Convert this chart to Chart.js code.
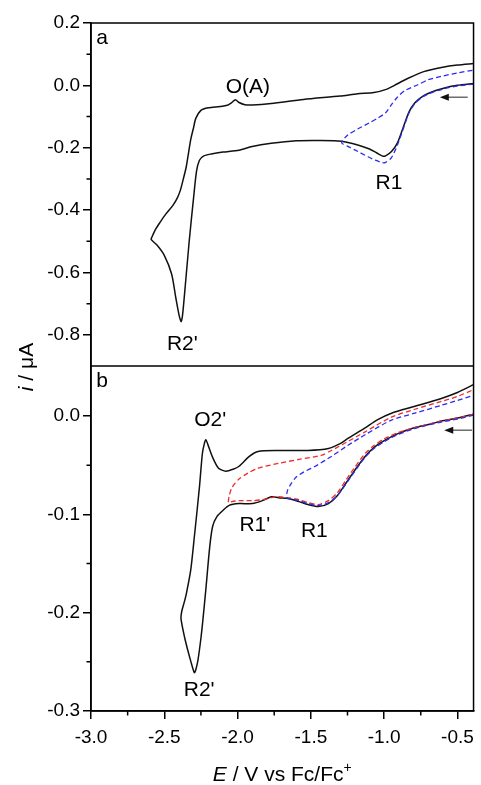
<!doctype html>
<html>

<head>
  <meta charset="UTF-8">
  <script src="https://cdn.jsdelivr.net/npm/chart.js"></script>
  <style>
    html, body { margin: 0; padding: 0; background: #fff; }
    #wrap { width: 481px; height: 785px; }
  </style>
</head>

<body>
  <div id="wrap"><canvas id="cvChart" width="481" height="785"></canvas></div>

<script>
  // ---- panel a: full scan (black) and scan reversed after R1 (blue) ----
  const aBlackE = [-0.39, -0.50, -0.60, -0.68, -0.74, -0.79, -0.83, -0.87, -0.91, -0.95, -0.99, -1.01, -1.05, -1.10, -1.18,
    -1.29, -1.45, -1.60, -1.77, -1.90, -1.99, -2.10, -2.18, -2.23, -2.26, -2.28, -2.30, -2.33, -2.36, -2.375, -2.385,
    -2.40, -2.42, -2.45, -2.50, -2.55, -2.585, -2.59,
    -2.585, -2.56, -2.53, -2.49, -2.44, -2.41, -2.39, -2.37, -2.35, -2.32, -2.30, -2.285, -2.25, -2.20, -2.12, -2.07,
    -2.04, -2.015, -1.99, -1.95, -1.90, -1.77, -1.55, -1.30, -1.18, -1.07, -0.98, -0.93, -0.84, -0.73, -0.60, -0.50, -0.39];
  const aBlackI = [0.006, 0.000, -0.010, -0.022, -0.036, -0.056, -0.085, -0.135, -0.185, -0.212, -0.226, -0.227, -0.217, -0.204, -0.191,
    -0.179, -0.177, -0.178, -0.186, -0.196, -0.208, -0.214, -0.220, -0.226, -0.240, -0.275, -0.360, -0.500, -0.660, -0.735, -0.758,
    -0.735, -0.685, -0.605, -0.545, -0.512, -0.497, -0.493,
    -0.487, -0.462, -0.440, -0.413, -0.384, -0.360, -0.336, -0.300, -0.261, -0.175, -0.135, -0.106, -0.080, -0.072, -0.068, -0.064,
    -0.055, -0.046, -0.055, -0.062, -0.063, -0.058, -0.045, -0.034, -0.027, -0.023, -0.012, 0.000, 0.022, 0.044, 0.058, 0.065, 0.070];

  const aBlueE = [-0.39, -0.50, -0.60, -0.68, -0.74, -0.79, -0.83, -0.87, -0.91, -0.95, -0.99, -1.01, -1.06, -1.11, -1.20, -1.25, -1.29,
    -1.25, -1.18, -1.10, -1.04, -0.99, -0.95, -0.91, -0.86, -0.77, -0.70, -0.61, -0.50, -0.39];
  const aBlueI = [0.004, -0.002, -0.012, -0.024, -0.038, -0.058, -0.088, -0.140, -0.192, -0.232, -0.247, -0.248, -0.240, -0.229, -0.207, -0.195, -0.184,
    -0.160, -0.140, -0.120, -0.104, -0.088, -0.062, -0.038, -0.017, 0.002, 0.018, 0.029, 0.040, 0.049];

  // ---- panel b: full scan (black), reversed after R1' (red), reversed after R1 (blue) ----
  const bBlackE = [-0.39, -0.50, -0.61, -0.68, -0.80, -0.91, -1.00, -1.07, -1.13, -1.20, -1.26, -1.32, -1.38, -1.45, -1.52, -1.58,
    -1.65, -1.72, -1.77, -1.83, -1.90, -1.99, -2.06, -2.10, -2.14, -2.17, -2.19, -2.215, -2.235, -2.25, -2.27, -2.285, -2.295,
    -2.32, -2.34, -2.36, -2.386,
    -2.38, -2.365, -2.35, -2.32, -2.295, -2.26, -2.24, -2.225, -2.216, -2.20, -2.17, -2.13, -2.08, -2.03, -1.99, -1.92, -1.86,
    -1.72, -1.52, -1.38, -1.30, -1.25, -1.13, -1.05, -0.95, -0.79, -0.61, -0.50, -0.39];
  const bBlackI = [0.002, -0.002, -0.005, -0.008, -0.012, -0.018, -0.025, -0.032, -0.041, -0.055, -0.068, -0.081, -0.089, -0.092, -0.090, -0.087,
    -0.084, -0.083, -0.082, -0.086, -0.089, -0.089, -0.091, -0.096, -0.102, -0.112, -0.133, -0.174, -0.205, -0.226, -0.248, -0.258, -0.261,
    -0.249, -0.238, -0.226, -0.206,
    -0.198, -0.190, -0.181, -0.157, -0.123, -0.072, -0.038, -0.027, -0.024, -0.030, -0.042, -0.053, -0.056, -0.054, -0.051, -0.041, -0.036,
    -0.035, -0.035, -0.033, -0.028, -0.023, -0.012, -0.004, 0.003, 0.010, 0.018, 0.024, 0.032];

  const bRedE = [-0.39, -0.50, -0.61, -0.80, -0.91, -1.00, -1.07, -1.13, -1.20, -1.26, -1.32, -1.38, -1.45, -1.52, -1.58, -1.66,
    -1.72, -1.77, -1.83, -1.90, -1.99, -2.04, -2.063,
    -2.055, -2.036, -1.99, -1.93, -1.86, -1.72, -1.58, -1.43, -1.36, -1.25, -1.13, -0.95, -0.79, -0.61, -0.50, -0.39];
  const bRedI = [0.002, -0.002, -0.005, -0.012, -0.017, -0.023, -0.030, -0.038, -0.052, -0.065, -0.078, -0.086, -0.090, -0.088, -0.085, -0.083,
    -0.082, -0.083, -0.085, -0.086, -0.086, -0.087, -0.088,
    -0.080, -0.072, -0.064, -0.058, -0.053, -0.048, -0.044, -0.040, -0.035, -0.026, -0.016, -0.001, 0.007, 0.015, 0.020, 0.027];

  const bBlueE = [-0.39, -0.50, -0.61, -0.80, -0.91, -1.00, -1.07, -1.13, -1.20, -1.26, -1.32, -1.38, -1.45, -1.52, -1.58, -1.663,
    -1.66, -1.64, -1.60, -1.55, -1.47, -1.36, -1.25, -1.13, -0.95, -0.79, -0.61, -0.50, -0.39];
  const bBlueI = [0.001, -0.003, -0.006, -0.013, -0.019, -0.026, -0.033, -0.042, -0.056, -0.069, -0.081, -0.088, -0.091, -0.089, -0.086, -0.083,
    -0.076, -0.070, -0.062, -0.057, -0.051, -0.041, -0.030, -0.019, -0.004, 0.003, 0.011, 0.016, 0.021];

  // axis ranges and tick values
  const eRange = [-3.0, -0.39];
  const aRange = [-0.9, 0.2];
  const bRange = [-0.3, 0.051];
  const eTicks = [-3.0, -2.5, -2.0, -1.5, -1.0, -0.5];
  const eMinor = [-2.75, -2.25, -1.75, -1.25, -0.75];
  const aTicks = [0.2, 0.0, -0.2, -0.4, -0.6, -0.8];
  const aMinor = [0.1, -0.1, -0.3, -0.5, -0.7];
  const bTicks = [0.0, -0.1, -0.2, -0.3];
  const bMinor = [-0.05, -0.15, -0.25];

  // peak labels, panel letters and scan-direction arrows (data units)
  const peakLabels = [
    { axis: 'ya', text: 'a', e: -2.925, i: 0.152 },
    { axis: 'ya', text: 'O(A)', e: -1.93, i: -0.006 },
    { axis: 'ya', text: 'R1', e: -0.967, i: -0.313 },
    { axis: 'ya', text: "R2'", e: -2.377, i: -0.829 },
    { axis: 'yb', text: 'b', e: -2.925, i: 0.036 },
    { axis: 'yb', text: "O2'", e: -2.187, i: -0.004 },
    { axis: 'yb', text: "R1'", e: -1.882, i: -0.111 },
    { axis: 'yb', text: 'R1', e: -1.476, i: -0.117 },
    { axis: 'yb', text: "R2'", e: -2.262, i: -0.279 }
  ];
  const scanArrows = [
    { axis: 'ya', from: -0.43, to: -0.62, i: -0.038 },
    { axis: 'yb', from: -0.40, to: -0.59, i: -0.0143 }
  ];

  const FONT = '"Liberation Sans", Arial, sans-serif';
  const pts = (E, I) => E.map((e, k) => ({ x: e, y: I[k] }));

  function curve(E, I, axis, color, dashed, order) {
    return {
      data: pts(E, I),
      yAxisID: axis,
      borderColor: color,
      borderWidth: dashed ? 1.3 : 1.5,
      borderDash: dashed ? [5, 3] : [],
      pointRadius: 0,
      tension: 0.25,
      fill: false,
      order: order
    };
  }

  function yScale(range, ticks, weight) {
    return {
      type: 'linear',
      position: 'left',
      stack: 'cv',
      stackWeight: weight,
      min: range[0],
      max: range[1],
      afterBuildTicks: s => { s.ticks = ticks.map(v => ({ value: v })); },
      afterFit: s => { s.width = 91; },
      ticks: {
        color: '#000',
        font: { family: FONT, size: 19 },
        padding: 3,
        callback: v => v.toFixed(1)
      },
      grid: { drawOnChartArea: false, drawTicks: true, tickLength: 8, color: '#000', lineWidth: 1.5 },
      border: { color: '#000', width: 1.5 }
    };
  }

  // frame, panel divider, minor ticks, labels, arrows and axis titles
  const decorations = {
    id: 'decorations',
    afterDraw(chart) {
      const { ctx, chartArea: ca, scales } = chart;
      const x = scales.x;
      ctx.save();
      ctx.strokeStyle = '#000';
      ctx.lineWidth = 1.5;
      ctx.strokeRect(ca.left, ca.top, ca.right - ca.left, ca.bottom - ca.top);
      ctx.beginPath();
      ctx.moveTo(ca.left, scales.ya.bottom);
      ctx.lineTo(ca.right, scales.ya.bottom);
      ctx.stroke();

      ctx.beginPath();
      eMinor.forEach(v => {
        const px = x.getPixelForValue(v);
        ctx.moveTo(px, ca.bottom);
        ctx.lineTo(px, ca.bottom + 4.5);
      });
      [[scales.ya, aMinor], [scales.yb, bMinor]].forEach(([s, vals]) => {
        vals.forEach(v => {
          const py = s.getPixelForValue(v);
          ctx.moveTo(ca.left - 4.5, py);
          ctx.lineTo(ca.left, py);
        });
      });
      ctx.stroke();

      ctx.fillStyle = '#000';
      ctx.font = '21px ' + FONT;
      ctx.textAlign = 'center';
      ctx.textBaseline = 'middle';
      peakLabels.forEach(l => {
        ctx.fillText(l.text, x.getPixelForValue(l.e), scales[l.axis].getPixelForValue(l.i));
      });

      scanArrows.forEach(a => {
        const x0 = x.getPixelForValue(a.from);
        const x1 = x.getPixelForValue(a.to);
        const py = scales[a.axis].getPixelForValue(a.i);
        ctx.strokeStyle = '#555';
        ctx.lineWidth = 1.3;
        ctx.beginPath();
        ctx.moveTo(x0, py);
        ctx.lineTo(x1 + 6, py);
        ctx.stroke();
        ctx.fillStyle = '#111';
        ctx.beginPath();
        ctx.moveTo(x1, py);
        ctx.lineTo(x1 + 9, py - 3.5);
        ctx.lineTo(x1 + 9, py + 3.5);
        ctx.closePath();
        ctx.fill();
      });

      // x title: E / V vs Fc/Fc+
      ctx.fillStyle = '#000';
      ctx.textAlign = 'left';
      ctx.textBaseline = 'alphabetic';
      const ital = 'italic 21px ' + FONT, norm = '21px ' + FONT, sup = '14px ' + FONT;
      const xParts = [['E', ital, 0], [' / V vs Fc/Fc', norm, 0], ['+', sup, -9]];
      let w = 0;
      xParts.forEach(p => { ctx.font = p[1]; w += ctx.measureText(p[0]).width; });
      let cx = (ca.left + ca.right) / 2 - w / 2;
      xParts.forEach(p => {
        ctx.font = p[1];
        ctx.fillText(p[0], cx, 781 + p[2]);
        cx += ctx.measureText(p[0]).width;
      });

      // y title: i / µA
      const yParts = [['i', ital], [' / \u03bcA', norm]];
      w = 0;
      yParts.forEach(p => { ctx.font = p[1]; w += ctx.measureText(p[0]).width; });
      ctx.translate(33, (ca.top + ca.bottom) / 2);
      ctx.rotate(-Math.PI / 2);
      cx = -w / 2;
      yParts.forEach(p => {
        ctx.font = p[1];
        ctx.fillText(p[0], cx, 0);
        cx += ctx.measureText(p[0]).width;
      });
      ctx.restore();
    }
  };

  const ctx = document.getElementById('cvChart').getContext('2d');
  const cvChart = new Chart(ctx, {
    type: 'line',
    data: {
      datasets: [
        curve(aBlackE, aBlackI, 'ya', '#111', false, 3),
        curve(aBlueE, aBlueI, 'ya', '#2b2bf2', true, 1),
        curve(bBlackE, bBlackI, 'yb', '#111', false, 3),
        curve(bRedE, bRedI, 'yb', '#f02a2a', true, 2),
        curve(bBlueE, bBlueI, 'yb', '#2b2bf2', true, 1)
      ]
    },
    options: {
      responsive: false,
      animation: false,
      layout: { padding: { top: 23, right: 5, left: 0, bottom: 0 } },
      plugins: { legend: { display: false }, tooltip: { enabled: false } },
      scales: {
        x: {
          type: 'linear',
          position: 'bottom',
          min: eRange[0],
          max: eRange[1],
          afterBuildTicks: s => { s.ticks = eTicks.map(v => ({ value: v })); },
          afterFit: s => { s.height = 74; },
          ticks: {
            color: '#000',
            font: { family: FONT, size: 19 },
            padding: 7,
            maxRotation: 0,
            autoSkip: false,
            callback: v => v.toFixed(1)
          },
          grid: { drawOnChartArea: false, drawTicks: true, tickLength: 8, color: '#000', lineWidth: 1.5 },
          border: { color: '#000', width: 1.5 }
        },
        yb: yScale(bRange, bTicks, 345),
        ya: yScale(aRange, aTicks, 343)
      }
    },
    plugins: [decorations]
  });
</script>

</body>

</html>
